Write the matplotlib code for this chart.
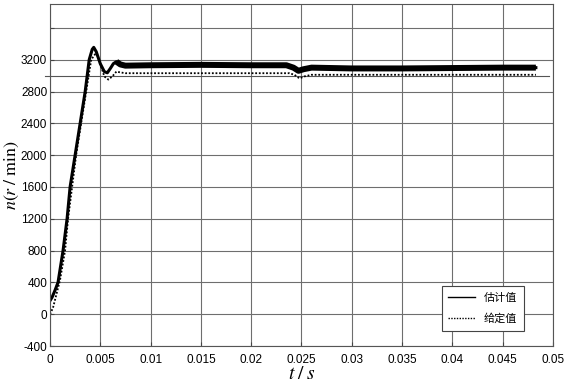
import matplotlib
matplotlib.use('Agg')
import matplotlib.pyplot as plt

plt.rcParams['font.family'] = ['Liberation Sans', 'Noto Sans CJK SC']
plt.rcParams['mathtext.fontset'] = 'stix'

# 估计值 (estimated speed)
t_est = [0, 0.0002, 0.0005, 0.0008, 0.0013, 0.0017, 0.002, 0.0025, 0.003, 0.0035,
         0.0039, 0.0042, 0.00435, 0.0046, 0.005, 0.0054, 0.0057, 0.006, 0.0063,
         0.0066, 0.007, 0.0075, 0.01, 0.015, 0.02, 0.0235, 0.0242, 0.0247,
         0.0252, 0.026, 0.03, 0.035, 0.04, 0.045, 0.0483]
n_est = [170, 210, 300, 400, 800, 1200, 1600, 2000, 2400, 2800,
         3200, 3330, 3355, 3300, 3150, 3050, 3035, 3090, 3150,
         3175, 3140, 3125, 3130, 3135, 3130, 3130, 3100, 3060,
         3080, 3100, 3090, 3090, 3095, 3100, 3100]

# 给定值 (reference speed)
t_ref = [0, 0.0003, 0.001, 0.0015, 0.0018, 0.0022, 0.0026, 0.0031, 0.0036, 0.0041,
         0.0046, 0.005, 0.0054, 0.0058, 0.0062, 0.0066, 0.007, 0.0075, 0.015,
         0.0238, 0.0243, 0.0248, 0.0253, 0.026, 0.035, 0.0483]
n_ref = [0, 80, 430, 800, 1200, 1600, 2000, 2400, 2800, 3200,
         3290, 3150, 2990, 2950, 2990, 3050, 3040, 3030, 3030,
         3030, 3010, 2965, 2990, 3010, 3010, 3010]

n_line = 3000
x_ticks = [0, 0.005, 0.01, 0.015, 0.02, 0.025, 0.03, 0.035, 0.04, 0.045, 0.05]
x_labels = ['0', '0.005', '0.01', '0.015', '0.02', '0.025', '0.03', '0.035', '0.04', '0.045', '0.05']
y_ticks = [-400, 0, 400, 800, 1200, 1600, 2000, 2400, 2800, 3200, 3600]
y_labels = ['-400', '0', '400', '800', '1200', '1600', '2000', '2400', '2800', '3200', '']

fig = plt.figure(figsize=(5.66, 3.82), dpi=100)
ax = fig.add_axes([0.0883, 0.0942, 0.8887, 0.8953])

ax.grid(True, color='#6e6e6e', linewidth=0.8)
ax.set_axisbelow(True)

ax.plot([-0.0005, 0.0496], [n_line, n_line], color='#555555', linewidth=0.8, clip_on=False)

k = t_est.index(0.0066)
ax.plot(t_est, n_est, color='black', linewidth=2.2)
ax.plot(t_est[k:], n_est[k:], color='black', linewidth=4.3, solid_capstyle='butt')
ax.plot(t_ref, n_ref, color='black', linewidth=1.3, linestyle=(0, (1, 1)))

# legend handles drawn thin, as in the reference
h1, = ax.plot([], [], color='black', linewidth=1.0, label='估计值')
h2, = ax.plot([], [], color='black', linewidth=1.0, linestyle=(0, (1, 1)), label='给定值')

ax.set_xlim(0, 0.05)
ax.set_ylim(-400, 3900)
ax.set_xticks(x_ticks)
ax.set_xticklabels(x_labels)
ax.set_yticks(y_ticks)
ax.set_yticklabels(y_labels)
ax.tick_params(direction='in', labelsize=8.5, length=3, color='#444444')
ax.tick_params(axis='x', pad=6)
ax.tick_params(axis='y', pad=2)
for s in ax.spines.values():
    s.set_color('#555555')
    s.set_linewidth(0.8)

ax.set_xlabel(r'$t\;/\;s$', fontsize=14, labelpad=0)
ax.set_ylabel(r'$n(r\;/\;\mathrm{min})$', fontsize=13)
ax.yaxis.set_label_coords(-0.058, 0.5)

leg = ax.legend(handles=[h1, h2], loc='lower right', bbox_to_anchor=(0.953, 0.028),
                prop={'family': ['Noto Sans CJK SC'], 'size': 8},
                fancybox=False, framealpha=1, edgecolor='#444444',
                handlelength=2.4, handletextpad=0.8, labelspacing=0.95, borderpad=0.6)
leg.get_frame().set_linewidth(0.8)

fig.savefig('out.png', dpi=100)
